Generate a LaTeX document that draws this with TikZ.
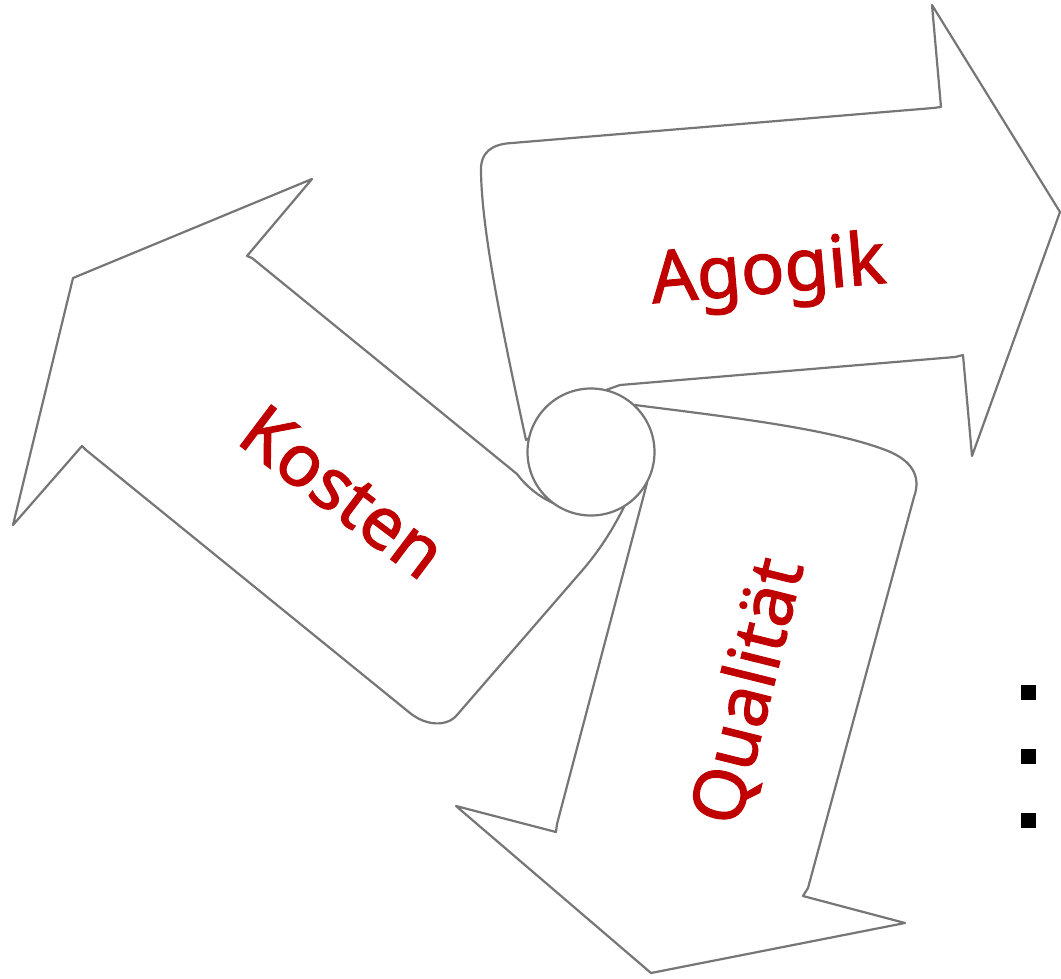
\documentclass[tikz,border=0pt]{standalone}
\usepackage{fontspec}
\setmainfont{Noto Sans}[FakeBold=1.6]
\definecolor{edge}{RGB}{118,118,118}
\definecolor{lab}{RGB}{192,0,0}
\tikzset{
  arrowshape/.style={draw=edge, fill=white, line width=2.2pt, line join=round},
  hub/.style={circle, draw=edge, fill=white, line width=2.2pt, minimum size=127pt, inner sep=0pt},
  lbl/.style={text=lab, font=\fontsize{72}{80}\selectfont\bfseries, anchor=base, inner sep=0pt},
  bullet/.style={fill=black, draw=none, minimum size=15pt, inner sep=0pt, rectangle}
}
\begin{document}
\begin{tikzpicture}[x=1pt, y=-1pt]
\useasboundingbox (0,0) rectangle (1061,978);
% Agogik arrow
\draw[arrowshape] (526,440) .. controls (500,320) and (482,230) .. (481,172)
  .. controls (480,152) and (492,144) .. (512,143)
  -- (933,108) -- (941,107) -- (932,5) -- (1060,212) -- (972,456) -- (963,355)
  -- (955,357) -- (620,385) -- (606,390) -- cycle;
% Kosten arrow
\draw[arrowshape] (553,503) .. controls (538,496) and (526,486) .. (517,474)
  -- (252,258) -- (247,256) -- (312,179) -- (73,278) -- (13,525) -- (82,446)
  -- (86,450) -- (410,713) .. controls (426,726) and (447,727) .. (457,715)
  -- (580,573) .. controls (595,556) and (610,535) .. (624,507) -- cycle;
% Qualitaet arrow
\draw[arrowshape] (635,405) .. controls (720,416) and (830,428) .. (888,451)
  .. controls (910,460) and (922,475) .. (914,497)
  -- (808,888) -- (803,896) -- (905,923) -- (651,973) -- (456,806) -- (556,832)
  -- (557,824) -- (647,483) -- cycle;
\node[hub] (c) at (591,452) {};
\node[lbl, rotate=5] (agogik) at (770,293) {Agogik};
\node[lbl, rotate=-37] (kosten) at (328,512) {Kosten};
\node[lbl, rotate=76] (qual) at (771,697) {Qualität};
\node[bullet] (b1) at (1028,692) {};
\node[bullet] (b2) at (1028,756) {};
\node[bullet] (b3) at (1028,820) {};
\end{tikzpicture}
\end{document}
